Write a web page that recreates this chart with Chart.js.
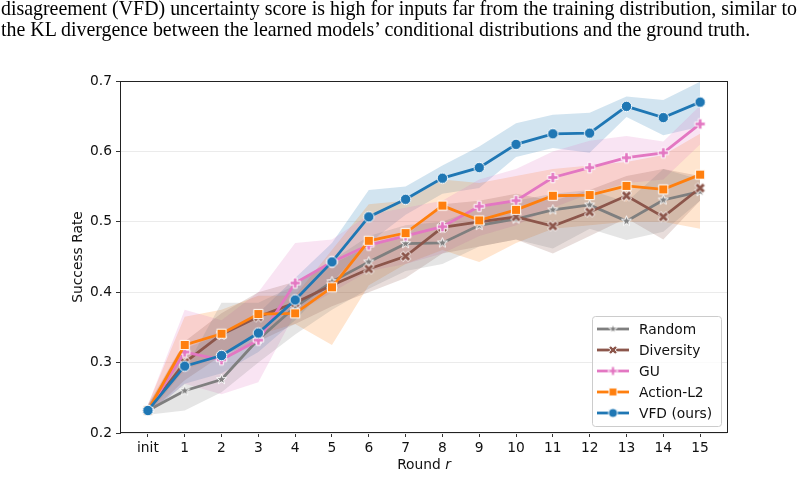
<!DOCTYPE html>
<html>
<head>
<meta charset="utf-8">
<script src="https://cdn.jsdelivr.net/npm/chart.js@4.4.1/dist/chart.umd.min.js"></script>
<style>
  html, body { margin: 0; padding: 0; background: #fff; }
  #wrap { position: relative; width: 804px; height: 477px; overflow: hidden; }
  #para { position: absolute; left: 1px; top: -2px; z-index: 2;
          font-family: "Liberation Serif", "Times New Roman", serif;
          font-size: 19.9px; line-height: 21px; color: #000; }
  #para .l1 { width: 796px; white-space: nowrap; text-align: justify; text-align-last: justify; }
  #para .l2 { white-space: nowrap; }
  canvas { position: absolute; left: 0; top: 0; }
</style>
</head>
<body>
<div id="wrap">
  <div id="para">
    <div class="l1">disagreement (VFD) uncertainty score is high for inputs far from the training distribution, similar to</div>
    <div class="l2">the KL divergence between the learned models’ conditional distributions and the ground truth.</div>
  </div>
  <canvas id="chart" width="804" height="477"></canvas>
</div>
<script>
// -----------------------------
// DATA
// -----------------------------
const rounds = ['init', '1', '2', '3', '4', '5', '6', '7', '8', '9', '10', '11', '12', '13', '14', '15'];

const randomMean = [0.232, 0.260, 0.276, 0.333, 0.379, 0.415, 0.443, 0.469, 0.470, 0.495, 0.504, 0.517, 0.524, 0.501, 0.531, 0.543];
const randomLow  = [0.226, 0.232, 0.258, 0.300, 0.340, 0.375, 0.405, 0.430, 0.440, 0.465, 0.475, 0.462, 0.490, 0.474, 0.486, 0.530];
const randomHigh = [0.240, 0.290, 0.385, 0.385, 0.410, 0.445, 0.480, 0.495, 0.500, 0.520, 0.530, 0.540, 0.545, 0.528, 0.575, 0.560];

const diversityMean = [0.232, 0.300, 0.340, 0.365, 0.385, 0.410, 0.433, 0.451, 0.492, 0.500, 0.507, 0.494, 0.514, 0.537, 0.507, 0.548];
const diversityLow  = [0.226, 0.275, 0.310, 0.330, 0.355, 0.380, 0.400, 0.420, 0.455, 0.465, 0.475, 0.455, 0.480, 0.505, 0.475, 0.530];
const diversityHigh = [0.240, 0.330, 0.370, 0.400, 0.415, 0.440, 0.465, 0.480, 0.525, 0.530, 0.540, 0.530, 0.545, 0.565, 0.575, 0.565];

const guMean = [0.232, 0.315, 0.304, 0.332, 0.413, 0.443, 0.467, 0.480, 0.493, 0.522, 0.530, 0.563, 0.577, 0.591, 0.598, 0.639];
const guLow  = [0.226, 0.270, 0.255, 0.272, 0.370, 0.400, 0.430, 0.440, 0.455, 0.480, 0.495, 0.520, 0.540, 0.555, 0.560, 0.610];
const guHigh = [0.240, 0.375, 0.360, 0.400, 0.470, 0.475, 0.510, 0.520, 0.530, 0.560, 0.575, 0.600, 0.615, 0.622, 0.614, 0.665];

const actionMean = [0.232, 0.325, 0.341, 0.369, 0.370, 0.407, 0.473, 0.484, 0.523, 0.502, 0.517, 0.537, 0.538, 0.551, 0.546, 0.567];
const actionLow  = [0.226, 0.290, 0.310, 0.340, 0.355, 0.325, 0.410, 0.440, 0.460, 0.443, 0.470, 0.490, 0.495, 0.500, 0.500, 0.490];
const actionHigh = [0.240, 0.365, 0.375, 0.395, 0.395, 0.460, 0.525, 0.530, 0.560, 0.555, 0.565, 0.575, 0.580, 0.585, 0.595, 0.625];

const vfdMean = [0.232, 0.295, 0.310, 0.342, 0.389, 0.443, 0.507, 0.532, 0.562, 0.577, 0.610, 0.625, 0.626, 0.664, 0.648, 0.670];
const vfdLow  = [0.226, 0.270, 0.285, 0.315, 0.360, 0.415, 0.470, 0.510, 0.540, 0.548, 0.592, 0.605, 0.598, 0.649, 0.623, 0.635];
const vfdHigh = [0.240, 0.320, 0.340, 0.370, 0.420, 0.470, 0.545, 0.550, 0.580, 0.607, 0.640, 0.652, 0.655, 0.678, 0.673, 0.699];

const seriesNames = ['Random', 'Diversity', 'GU', 'Action-L2', 'VFD (ours)'];

// -----------------------------
// MARKERS (drawn once into small canvases)
// -----------------------------
function makeMarker(kind, color, size) {
    const d = Math.ceil(size + 4);
    const c = document.createElement('canvas');
    c.width = d; c.height = d;
    const g = c.getContext('2d');
    g.translate(d / 2, d / 2);
    const r = size / 2;
    g.beginPath();
    if (kind === 'circle') {
        g.arc(0, 0, r, 0, Math.PI * 2);
    } else if (kind === 'square') {
        g.rect(-r * 0.92, -r * 0.92, r * 1.84, r * 1.84);
    } else if (kind === 'star') {
        for (let k = 0; k < 10; k++) {
            const rr = k % 2 ? r * 0.42 : r;
            const a = -Math.PI / 2 + k * Math.PI / 5;
            g.lineTo(rr * Math.cos(a), rr * Math.sin(a));
        }
        g.closePath();
    } else {
        // filled plus / filled x
        const rr = kind === 'x' ? r * 1.2 : r;
        const w = rr * 0.34;
        const pts = [[-w, -rr], [w, -rr], [w, -w], [rr, -w], [rr, w], [w, w], [w, rr], [-w, rr], [-w, w], [-rr, w], [-rr, -w], [-w, -w]];
        const ang = kind === 'x' ? Math.PI / 4 : 0;
        pts.forEach(([px, py], i) => {
            const qx = px * Math.cos(ang) - py * Math.sin(ang);
            const qy = px * Math.sin(ang) + py * Math.cos(ang);
            if (i === 0) g.moveTo(qx, qy); else g.lineTo(qx, qy);
        });
        g.closePath();
    }
    g.fillStyle = color;
    g.fill();
    g.strokeStyle = '#ffffff';
    g.lineWidth = 1;
    g.stroke();
    return c;
}

const colors = ['#7f7f7f', '#8c564b', '#e377c2', '#ff7f0e', '#1f77b4'];
const bandColors = ['rgba(127,127,127,0.2)', 'rgba(140,86,75,0.2)', 'rgba(227,119,194,0.2)', 'rgba(255,127,14,0.2)', 'rgba(31,119,180,0.2)'];
const kinds = ['star', 'x', 'plus', 'square', 'circle'];
const sizes = [10.5, 9, 10.5, 10, 10.5];

const markers = kinds.map((k, i) => makeMarker(k, colors[i], sizes[i]));
const legendMarkers = kinds.map((k, i) => makeMarker(k, colors[i], sizes[i] * 0.85));

const means = [randomMean, diversityMean, guMean, actionMean, vfdMean];
const lows = [randomLow, diversityLow, guLow, actionLow, vfdLow];
const highs = [randomHigh, diversityHigh, guHigh, actionHigh, vfdHigh];

const toPoints = arr => arr.map((v, i) => ({ x: i, y: v }));

// -----------------------------
// DATASETS
// -----------------------------
const datasets = [];
seriesNames.forEach((name, s) => {
    const upperIndex = datasets.length;
    datasets.push({
        label: name + ' hi', data: toPoints(highs[s]), borderWidth: 0, borderColor: 'rgba(0,0,0,0)',
        pointRadius: 0, fill: false, order: 20
    });
    datasets.push({
        label: name + ' lo', data: toPoints(lows[s]), borderWidth: 0, borderColor: 'rgba(0,0,0,0)',
        pointRadius: 0, fill: upperIndex, backgroundColor: bandColors[s], order: 20
    });
});
seriesNames.forEach((name, s) => {
    datasets.push({
        label: name, data: toPoints(means[s]), borderColor: colors[s], borderWidth: 2.8,
        pointStyle: markers[s], pointRadius: 5, fill: false, order: 4 - s, tension: 0
    });
});

// -----------------------------
// FRAME, TITLES AND LEGEND
// -----------------------------
const FONT = '"DejaVu Sans", sans-serif';
const decorPlugin = {
    id: 'decor',
    afterDraw(chart) {
        const { ctx, chartArea: a } = chart;
        ctx.save();
        // frame
        ctx.strokeStyle = '#222';
        ctx.lineWidth = 1;
        ctx.strokeRect(Math.round(a.left) - 0.5, Math.round(a.top) + 0.5, Math.round(a.right - a.left) + 1, Math.round(a.bottom - a.top) - 1);

        // axis titles
        ctx.fillStyle = '#111';
        ctx.textBaseline = 'middle';
        ctx.font = '13.8px ' + FONT;
        ctx.save();
        ctx.translate(78, (a.top + a.bottom) / 2);
        ctx.rotate(-Math.PI / 2);
        ctx.textAlign = 'center';
        ctx.fillText('Success Rate', 0, 0);
        ctx.restore();

        const w1 = ctx.measureText('Round ').width;
        ctx.font = 'italic 13.8px ' + FONT;
        const w2 = ctx.measureText('r').width;
        let x0 = (a.left + a.right) / 2 - (w1 + w2) / 2;
        ctx.textAlign = 'left';
        ctx.font = '13.8px ' + FONT;
        ctx.fillText('Round ', x0, 465);
        ctx.font = 'italic 13.8px ' + FONT;
        ctx.fillText('r', x0 + w1, 465);

        // legend box
        const bw = 129, bh = 110;
        const bx = a.right - 6 - bw, by = a.bottom - 7 - bh;
        ctx.beginPath();
        ctx.roundRect(bx + 0.5, by + 0.5, bw, bh, 3);
        ctx.fillStyle = 'rgba(255,255,255,0.8)';
        ctx.fill();
        ctx.strokeStyle = '#cccccc';
        ctx.stroke();

        ctx.font = '13.8px ' + FONT;
        ctx.textAlign = 'left';
        ctx.textBaseline = 'middle';
        seriesNames.forEach((name, s) => {
            const yc = by + 13 + s * 21;
            ctx.strokeStyle = colors[s];
            ctx.lineWidth = 2.8;
            ctx.beginPath();
            ctx.moveTo(bx + 5, yc);
            ctx.lineTo(bx + 37, yc);
            ctx.stroke();
            const m = legendMarkers[s];
            ctx.drawImage(m, bx + 21 - m.width / 2, yc - m.height / 2);
            ctx.fillStyle = '#111';
            ctx.fillText(name, bx + 47, yc + 1);
        });
        ctx.restore();
    }
};

// -----------------------------
// CHART
// -----------------------------
new Chart(document.getElementById('chart'), {
    type: 'line',
    data: { datasets: datasets },
    options: {
        responsive: false,
        animation: false,
        devicePixelRatio: 1,
        events: [],
        layout: { padding: { top: 81, right: 77, bottom: 0, left: 0 } },
        plugins: {
            legend: { display: false },
            title: { display: false },
            tooltip: { enabled: false },
            filler: { drawTime: 'beforeDatasetsDraw' }
        },
        scales: {
            x: {
                type: 'linear',
                min: -0.73,
                max: 15.73,
                afterFit: scale => { scale.height = 44; },
                afterBuildTicks: scale => { scale.ticks = rounds.map((_, i) => ({ value: i })); },
                grid: { drawOnChartArea: false, drawTicks: true, tickLength: 4, tickColor: '#333' },
                border: { display: false },
                ticks: {
                    autoSkip: false, maxRotation: 0, padding: 3,
                    color: '#111', font: { family: FONT, size: 13.8 },
                    callback: v => rounds[v]
                }
            },
            y: {
                min: 0.2,
                max: 0.7,
                afterFit: scale => { scale.width = 121; },
                grid: { color: '#ebebeb', lineWidth: 1, tickLength: 5, tickColor: '#333' },
                border: { display: false },
                ticks: {
                    stepSize: 0.1, padding: 4,
                    color: '#111', font: { family: FONT, size: 13.8 },
                    callback: v => v.toFixed(1)
                }
            }
        }
    },
    plugins: [decorPlugin]
});
</script>
</body>
</html>
